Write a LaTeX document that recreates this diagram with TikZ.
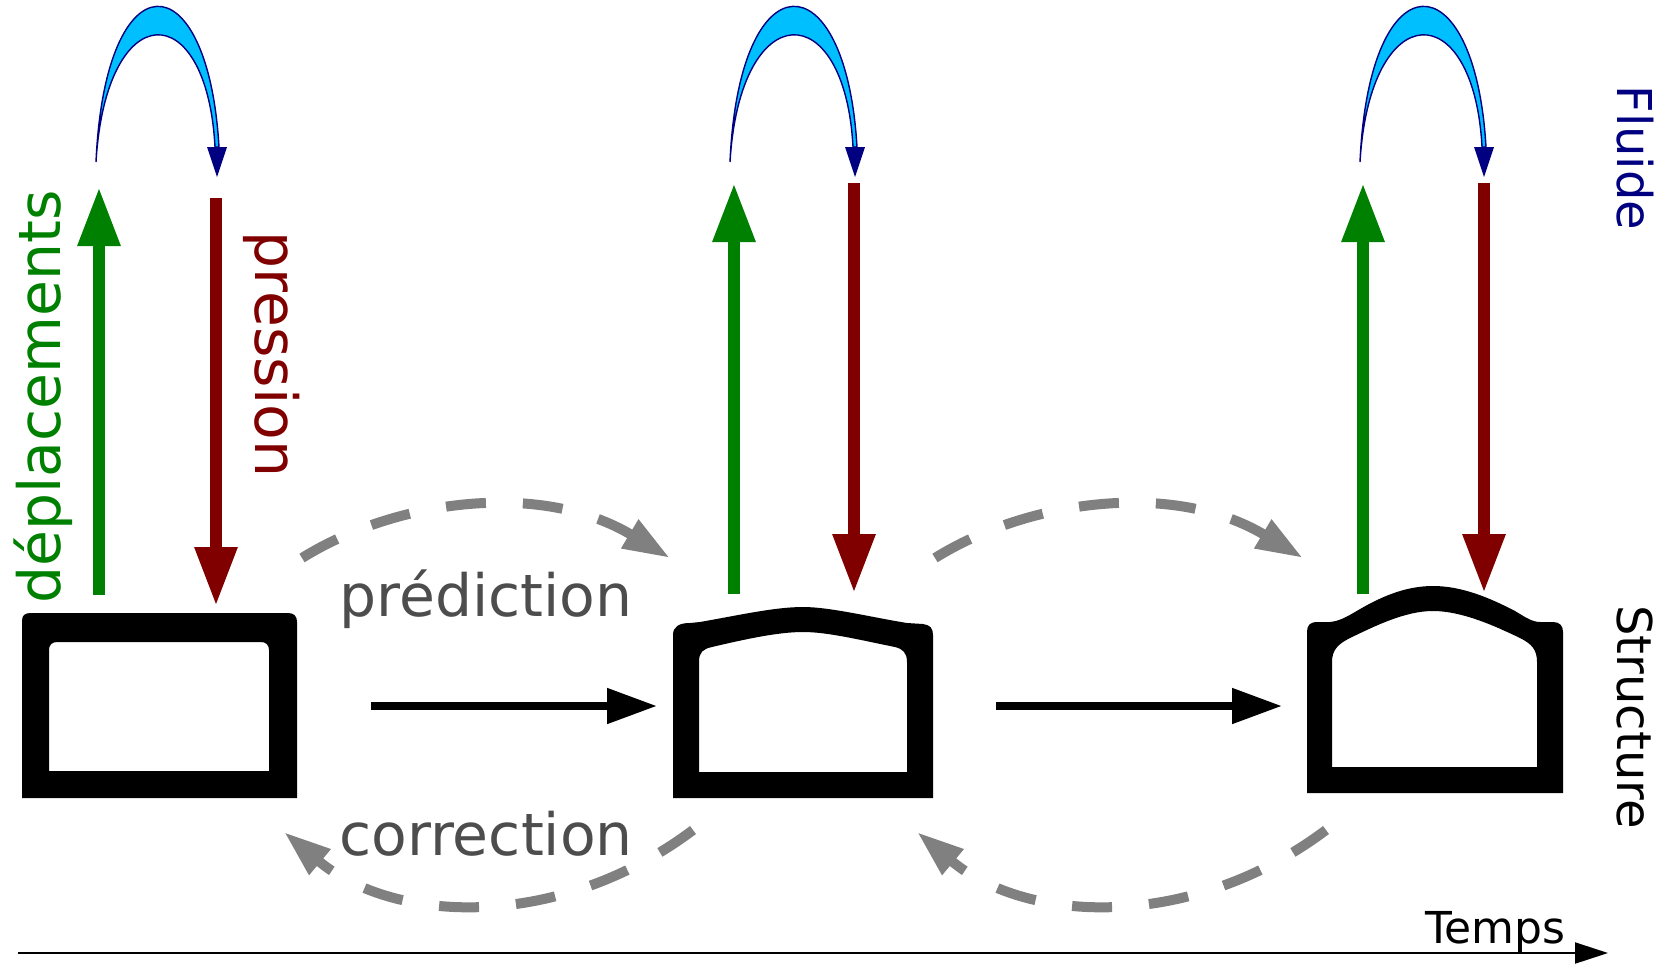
\documentclass[tikz,border=0pt]{standalone}
\usepackage{fontspec}
\setmainfont{DejaVu Sans}
\usetikzlibrary{arrows.meta}
\definecolor{dgreen}{HTML}{008000}
\definecolor{dred}{HTML}{800000}
\definecolor{dnavy}{HTML}{000080}
\definecolor{skyfill}{HTML}{00BFFF}
\definecolor{dashgrey}{HTML}{808080}
\definecolor{txtgrey}{HTML}{4D4D4D}
\tikzset{
  greenarrow/.style={draw=dgreen, line width=6pt, -{Triangle[length=29.5pt,width=20pt]}},
  redarrow/.style={draw=dred, line width=6pt, -{Triangle[length=29.5pt,width=20pt]}},
  blackarrow/.style={draw=black, line width=4pt, -{Triangle[length=25pt,width=17pt]}},
  dasharrow/.style={draw=dashgrey, line width=5pt, dash pattern=on 20pt off 18.5pt, -{Triangle[length=23.5pt,width=15.5pt]}},
  axisarrow/.style={draw=black, line width=1pt, -{Triangle[length=16.5pt,width=10.5pt]}},
  solid shape/.style={fill=black, even odd rule},
  arcfill/.style={fill=skyfill, draw=dnavy, line width=0.7pt},
  biglabel/.style={inner sep=0pt, anchor=base west, font=\fontsize{29.2pt}{31pt}\selectfont},
  sidelabel/.style={inner sep=0pt, anchor=base west, font=\fontsize{24pt}{26pt}\selectfont, rotate=-90},
}
\newcommand\fluidarc[2]{%
  \filldraw[arcfill] ({#1},162) .. controls ({#1+9},-44) and ({#2-9},-42) .. ({#2+2},147)
     -- ({#2-2},147) .. controls ({#2-10},-5) and ({#1+10},-5) .. cycle;
  \fill[dnavy] ({#2-10},147) -- ({#2+10},147) -- ({#2},177) -- cycle;
}
\begin{document}
\begin{tikzpicture}[x=0.5pt,y=-0.5pt]
\useasboundingbox (0,0) rectangle (1671,964);

% structures
\fill[solid shape]
  (22,798) -- (22,621) .. controls (22,615) and (25,613) .. (31,613) -- (288,613)
  .. controls (294,613) and (297,616) .. (297,622) -- (297,798) -- cycle
  (49,771) -- (49,650) .. controls (49,645) and (52,642) .. (57,642) -- (261,642)
  .. controls (266,642) and (269,645) .. (269,650) -- (269,771) -- cycle;
\fill[solid shape]
  (673,798) -- (673,635) .. controls (673,626) and (680,623) .. (690,623) -- (700,622)
  .. controls (740,615) and (775,607) .. (803,607) .. controls (830,607) and (870,617) .. (907,623)
  -- (923,624) .. controls (930,625) and (933,628) .. (933,635) -- (933,798) -- cycle
  (699,772) -- (699,662) .. controls (699,652) and (703,649) .. (712,647)
  .. controls (750,638) and (780,632) .. (803,632) .. controls (828,632) and (860,640) .. (895,647)
  .. controls (903,649) and (907,653) .. (907,662) -- (907,772) -- cycle;
\fill[solid shape]
  (1307,793) -- (1307,632) .. controls (1307,625) and (1310,622) .. (1318,622) -- (1330,622)
  .. controls (1340,621) and (1348,616) .. (1355,612) .. controls (1380,597) and (1405,586) .. (1433,586)
  .. controls (1462,586) and (1490,598) .. (1515,611) .. controls (1525,617) and (1532,622) .. (1540,622)
  -- (1553,622) .. controls (1560,622) and (1563,626) .. (1563,632) -- (1563,793) -- cycle
  (1332,767) -- (1332,662) .. controls (1332,650) and (1338,644) .. (1350,638)
  .. controls (1375,626) and (1405,611) .. (1433,611) .. controls (1462,611) and (1495,626) .. (1520,638)
  .. controls (1532,644) and (1537,650) .. (1537,662) -- (1537,767) -- cycle;

% coupling arrows
\coordinate (g1a) at (99,595);  \coordinate (g1b) at (99,187);
\coordinate (r1a) at (216,198); \coordinate (r1b) at (216,606);
\coordinate (g2a) at (734,594); \coordinate (g2b) at (734,183);
\coordinate (r2a) at (854,183); \coordinate (r2b) at (854,593);
\coordinate (g3a) at (1363,594); \coordinate (g3b) at (1363,183);
\coordinate (r3a) at (1484,183); \coordinate (r3b) at (1484,593);
\draw[greenarrow] (g1a) -- (g1b);
\draw[redarrow] (r1a) -- (r1b);
\draw[greenarrow] (g2a) -- (g2b);
\draw[redarrow] (r2a) -- (r2b);
\draw[greenarrow] (g3a) -- (g3b);
\draw[redarrow] (r3a) -- (r3b);

% fluid arcs
\fluidarc{96}{217}
\fluidarc{730}{855}
\fluidarc{1360}{1484}

% time stepping arrows
\coordinate (h1a) at (371,706); \coordinate (h1b) at (657,706);
\coordinate (h2a) at (996,706); \coordinate (h2b) at (1282,706);
\draw[blackarrow] (h1a) -- (h1b);
\draw[blackarrow] (h2a) -- (h2b);

% prediction / correction
\coordinate (p1a) at (302,558); \coordinate (p1b) at (670,558);
\coordinate (p2a) at (935,558); \coordinate (p2b) at (1303,558);
\draw[dasharrow] (p1a) .. controls (395,500) and (540,480) .. (p1b);
\draw[dasharrow] (p2a) .. controls (1028,500) and (1173,480) .. (p2b);
\coordinate (c1a) at (693,830); \coordinate (c1b) at (284,832);
\coordinate (c2a) at (1326,830); \coordinate (c2b) at (917,832);
\draw[dasharrow] (c1a) .. controls (560,930) and (395,925) .. (c1b);
\draw[dasharrow] (c2a) .. controls (1193,930) and (1028,925) .. (c2b);

% time axis
\coordinate (t0) at (18,953); \coordinate (t1) at (1608,953);
\draw[axisarrow] (t0) -- (t1);

% labels
\node[biglabel, text=txtgrey] (pred) at (339,616) {prédiction};
\node[biglabel, text=txtgrey] (corr) at (339,855) {correction};
\node[biglabel, text=dgreen, rotate=90] (depl) at (61,604) {déplacements};
\node[biglabel, text=dred, rotate=-90] (pres) at (255,231) {pression};
\node[sidelabel, text=dnavy] (fl) at (1617,85) {Fluide};
\node[sidelabel, text=black] (st) at (1617,605) {Structure};
\node[inner sep=0pt, anchor=base west, font=\fontsize{22pt}{24pt}\selectfont] (tm) at (1425,943) {Temps};
\end{tikzpicture}
\end{document}
